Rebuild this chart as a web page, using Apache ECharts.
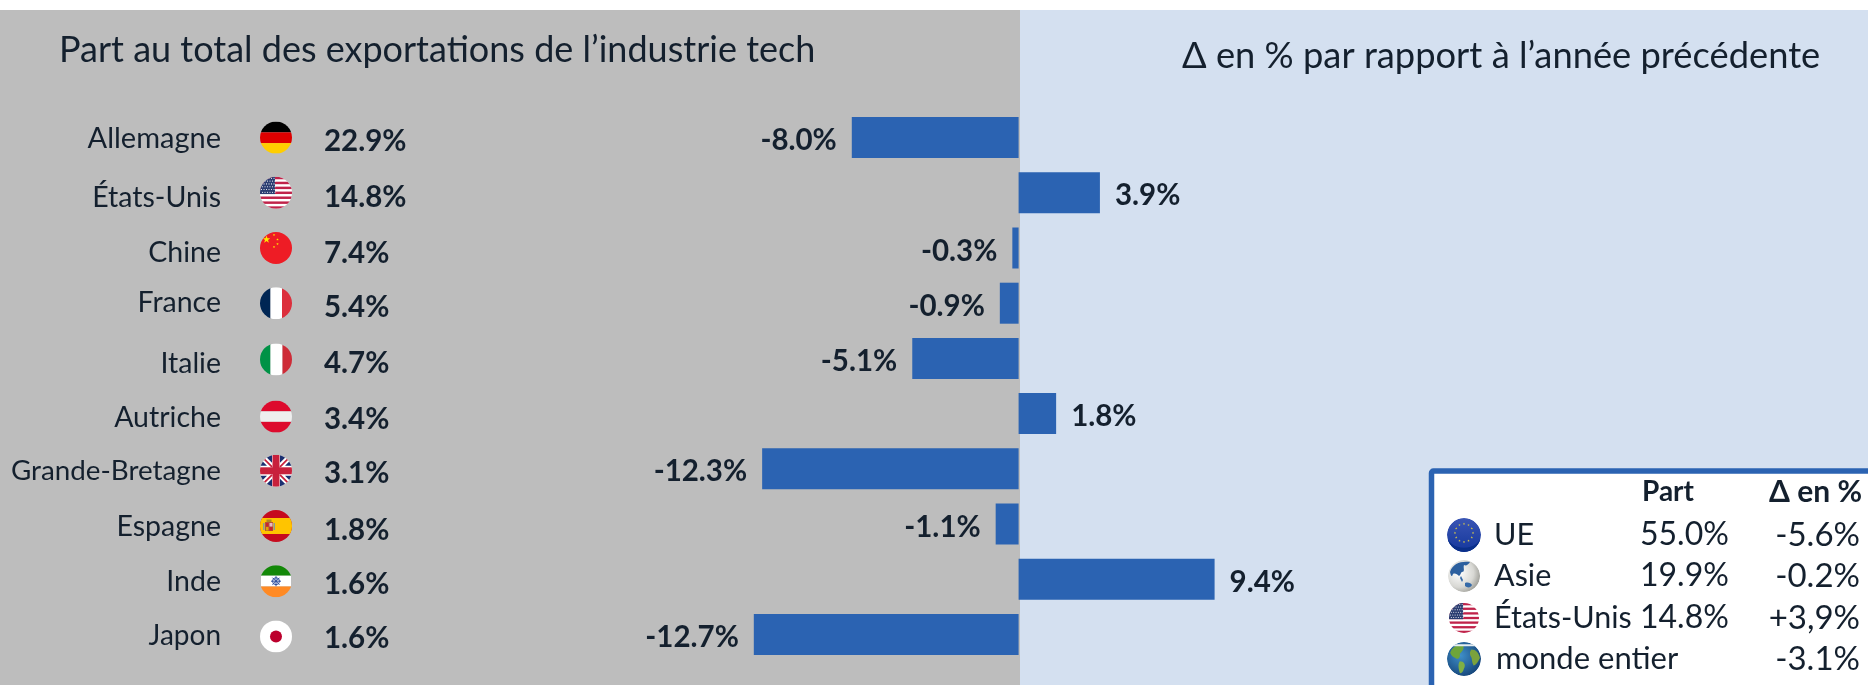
<!DOCTYPE html>
<html><head><meta charset="utf-8">
<style>html,body{margin:0;padding:0;background:#fff}#c{width:1868px;height:685px}</style>
<script src="https://cdn.jsdelivr.net/npm/echarts@6/dist/echarts.min.js"></script></head>
<body><div id="c"></div>
<script>
const categories=['Allemagne','États-Unis','Chine','France','Italie','Autriche','Grande-Bretagne','Espagne','Inde','Japon'];
const shares=['22.9%','14.8%','7.4%','5.4%','4.7%','3.4%','3.1%','1.8%','1.6%','1.6%'];
const deltas=[-8.0,3.9,-0.3,-0.9,-5.1,1.8,-12.3,-1.1,9.4,-12.7];
const flagKeys=['de','us','cn','fr','it','at','gb','es','in','jp'];
const titleLeft='Part au total des exportations de l’industrie tech';
const titleRight='Δ en % par rapport à l’année précédente';
const insetHead=['Part','Δ en %'];
const insetNames=['UE','Asie','États-Unis','monde entier'];
const insetShares=['55.0%','19.9%','14.8%',''];
const insetDeltas=['-5.6%','-0.2%','+3,9%','-3.1%'];
const insetIcons=['eu','asia','us','world'];

// small vertical nudges of the row texts, as in the original layout
const nameNudge=[2,6,6,1,6,5,3,4,4,3];
const shareNudge=[4,5,5,4,5,6,5,6,5,4];
const flagNudge=[0,0,0,0,1,3,2,2,2,2];
const nameSize=[29,28.5,28.5,28.5,28.5,28.5,27.8,28.5,28.5,28];

const FONT='Lato, "Noto Sans", sans-serif';
const INK='#14202e', BLUE='#2b63b2';

function svg(inner,defs){
  return 'data:image/svg+xml;charset=utf-8,'+encodeURIComponent(
   '<svg xmlns="http://www.w3.org/2000/svg" width="64" height="64" viewBox="0 0 64 64"><defs><clipPath id="k"><circle cx="32" cy="32" r="32"/></clipPath>'+(defs||'')+'</defs><g clip-path="url(#k)">'+inner+'</g></svg>');
}
function r(x,y,w,h,f){return `<rect x="${x}" y="${y}" width="${w}" height="${h}" fill="${f}"/>`;}
function usFlag(){
  let s=r(0,0,64,64,'#fff');
  for(let i=0;i<7;i++)s+=r(0,i*9.85,64,4.92,'#c0234a');
  s+=r(0,0,30,34.5,'#2c3e72');
  for(let j=0;j<6;j++)for(let i=0;i<6;i++)s+=`<circle cx="${3+i*5+(j%2)*2}" cy="${3+j*5.6}" r="1.1" fill="#fff"/>`;
  return svg(s);
}
const star=(x,y,o,f)=>{let p=[];for(let i=0;i<10;i++){const a=-Math.PI/2+i*Math.PI/5,q=i%2?o*.4:o;p.push((x+q*Math.cos(a)).toFixed(1)+','+(y+q*Math.sin(a)).toFixed(1));}return `<polygon points="${p.join(' ')}" fill="${f}"/>`;};
const flags={
 de:svg(r(0,0,64,21.5,'#000')+r(0,21.5,64,21.5,'#dd0000')+r(0,43,64,21,'#ffce00')),
 us:usFlag(),
 cn:svg(r(0,0,64,64,'#ee1c25')+star(13,15,8,'#ffea00')+star(28,6,2.6,'#ffea00')+star(35,15,2.6,'#ffea00')+star(35,24,2.6,'#ffea00')+star(28,30,2.6,'#ffea00')),
 fr:svg(r(0,0,21,64,'#002654')+r(21,0,23,64,'#fff')+r(44,0,20,64,'#dc2f3c')),
 it:svg(r(0,0,21,64,'#009246')+r(21,0,24,64,'#fff')+r(45,0,19,64,'#ce2b37')),
 at:svg(r(0,0,64,21.5,'#dd0a2d')+r(0,21.5,64,21,'#eeeeee')+r(0,42.5,64,21.5,'#dd0a2d')),
 gb:svg(r(0,0,64,64,'#fff')+'<polygon points="8,0 24,0 24,16" fill="#1b2f70"/><polygon points="40,0 56,0 40,16" fill="#1b2f70"/><polygon points="0,8 14,22 0,22" fill="#1b2f70"/><polygon points="64,8 64,22 50,22" fill="#1b2f70"/><polygon points="8,64 24,64 24,48" fill="#1b2f70"/><polygon points="40,64 56,64 40,48" fill="#1b2f70"/><polygon points="0,56 14,42 0,42" fill="#1b2f70"/><polygon points="64,56 64,42 50,42" fill="#1b2f70"/><path d="M0 0 L24 24 M64 0 L40 24 M0 64 L24 40 M64 64 L40 40" stroke="#c8203c" stroke-width="3.5"/>'+r(25,0,14,64,'#c8203c')+r(0,25,64,14,'#c8203c')),
 es:svg(r(0,0,64,64,'#c60b1e')+r(0,16,64,32,'#ffc400')+r(10,24,16,18,'#b5523a')+r(12,26,5,7,'#c9242d')+r(19,26,6,7,'#e6b8c4')+r(12,34,5,7,'#e0a400')+r(19,34,6,7,'#c9242d')+r(6,26,3,14,'#8a9a9a')+r(27,26,3,14,'#8a9a9a')+r(13,19,10,5,'#b08a20')),
 in:svg(r(0,0,64,21,'#138808')+r(2,21,60,21.5,'#fff')+r(0,42.5,64,21.5,'#ff8a24')+'<circle cx="32" cy="32" r="7" fill="none" stroke="#2f4f9e" stroke-width="2"/><path d="M32 22V42M22 32H42M25 25L39 39M39 25L25 39" stroke="#2f4f9e" stroke-width="2"/>'),
 jp:svg(r(0,0,64,64,'#fff')+'<circle cx="32" cy="32" r="12" fill="#bc002d"/>')
};
function euIcon(){
  let s='<circle cx="32" cy="32" r="32" fill="url(#eu)"/><path d="M0 32 A32 32 0 0 0 64 32 A32 24 0 0 1 0 32Z" fill="#0a2f8a"/>';
  for(let i=0;i<12;i++){const a=i*Math.PI/6;s+=star(32+17*Math.cos(a),28+17*Math.sin(a),2.4,'#d8c84a');}
  return svg(s,'<linearGradient id="eu" x1="0" y1="0" x2="0" y2="1"><stop offset="0" stop-color="#3a55b4"/><stop offset="1" stop-color="#14379c"/></linearGradient>');
}
function asiaIcon(){
  return svg('<circle cx="32" cy="32" r="32" fill="url(#g)"/><path d="M4 24C10 6 26 2 44 4C40 10 36 12 32 10C30 16 34 20 30 24C26 22 26 30 22 32C18 28 14 26 10 28C8 34 6 34 4 24Z" fill="#2c5f9e"/><path d="M26 32L30 40L28 44L24 36Z M34 46C40 44 46 46 48 50C46 56 38 56 34 52Z" fill="#356aa8"/>',
  '<radialGradient id="g" cx=".35" cy=".4" r=".75"><stop offset="0" stop-color="#ffffff"/><stop offset=".6" stop-color="#d8d8d4"/><stop offset="1" stop-color="#8d8d86"/></radialGradient>');
}
function worldIcon(){
  return svg('<circle cx="32" cy="32" r="32" fill="url(#w)"/><path d="M6 20C12 6 24 4 30 6C34 12 28 18 24 22C26 30 20 34 16 30C12 28 8 26 6 20Z" fill="#6ea53a"/><path d="M24 36C32 36 36 42 32 50C30 58 26 60 24 58C22 50 20 42 24 36Z" fill="#7fb044"/><path d="M46 14C54 14 60 20 62 30C58 38 54 44 50 44C46 38 48 30 44 26C42 20 44 16 46 14Z" fill="#7ba23c"/><path d="M10 4H54V8H10Z" fill="#e6edf0"/>',
  '<radialGradient id="w" cx=".4" cy=".4" r=".7"><stop offset="0" stop-color="#3f8fc9"/><stop offset="1" stop-color="#123f73"/></radialGradient>');
}
const insetImg={eu:euIcon(),asia:asiaIcon(),us:flags.us,world:worldIcon()};

const chart=echarts.init(document.getElementById('c'));
function txt(text,x,y,size,opt){
  return {type:'text',z:110,style:{text,x,y,fill:INK,font:(opt&&opt.bold?'bold ':'')+size+'px '+FONT,align:(opt&&opt.align)||'left',verticalAlign:'middle'}};
}
const inset=[{type:'rect',z:100,shape:{x:1431.5,y:471,width:500,height:240,r:2},style:{fill:'#fff',stroke:BLUE,lineWidth:5.5}},
 txt(insetHead[0],1642,492,28,{bold:true}),
 txt(insetHead[1],1862,492,30,{bold:true,align:'right'})];
const rowsY=[535,576,618,659];
const iconR=[17,16,15,17];
insetNames.forEach((n,i)=>{
 const ir=iconR[i];
 inset.push({type:'image',z:110,style:{image:insetImg[insetIcons[i]],x:1464-ir,y:rowsY[i]-ir,width:2*ir,height:2*ir}});
 inset.push(txt(n,i==3?1496:1494,rowsY[i],i==3?31:30.5));
 if(insetShares[i])inset.push(txt(insetShares[i],1640,rowsY[i],32));
 inset.push(txt(insetDeltas[i],1860,rowsY[i],33,{align:'right'}));
});

chart.setOption({
 animation:false,
 backgroundColor:'#fff',
 grid:{left:685,top:110,width:1167.6,height:552,containLabel:false},
 xAxis:{type:'value',min:-16,max:40,show:false},
 yAxis:{type:'category',data:categories,inverse:true,show:false},
 graphic:[
  {type:'rect',z:-10,shape:{x:0,y:10,width:1020,height:675},style:{fill:'#bdbdbd'}},
  {type:'rect',z:-10,shape:{x:1020,y:10,width:848,height:675},style:{fill:'#d4e0f0'}},
  {type:'text',z:5,style:{text:titleLeft,x:59,y:50,fill:INK,font:'36px '+FONT,align:'left',verticalAlign:'middle'}},
  {type:'text',z:5,style:{text:titleRight,x:1182,y:56,fill:INK,font:'36.3px '+FONT,align:'left',verticalAlign:'middle'}},
  ...inset
 ],
 series:[
  {type:'bar',barWidth:41,itemStyle:{color:BLUE},
   label:{show:true,distance:15,offset:[0,3],color:INK,fontFamily:FONT,fontWeight:'bold',fontSize:29.5,
     formatter:p=>p.value.toFixed(1)+'%'},
   data:deltas.map(v=>({value:v,label:{position:v<0?'left':'right'}}))},
  {type:'custom',clip:false,silent:true,
   encode:{x:0,y:1},
   data:categories.map(c=>[0,c]),
   renderItem:(params,api)=>{
     const i=params.dataIndex, y=api.coord([0,api.value(1)])[1];
     return {type:'group',children:[
      {type:'text',style:{text:categories[i],x:221,y:y-1+nameNudge[i],fill:INK,font:nameSize[i]+'px '+FONT,align:'right',verticalAlign:'middle'}},
      {type:'image',style:{image:flags[flagKeys[i]],x:260,y:y-16+flagNudge[i],width:32,height:32}},
      {type:'text',style:{text:shares[i],x:324,y:y+shareNudge[i],fill:INK,font:'bold 29.5px '+FONT,align:'left',verticalAlign:'middle'}}
     ]};
   }}
 ]
});
</script></body></html>
